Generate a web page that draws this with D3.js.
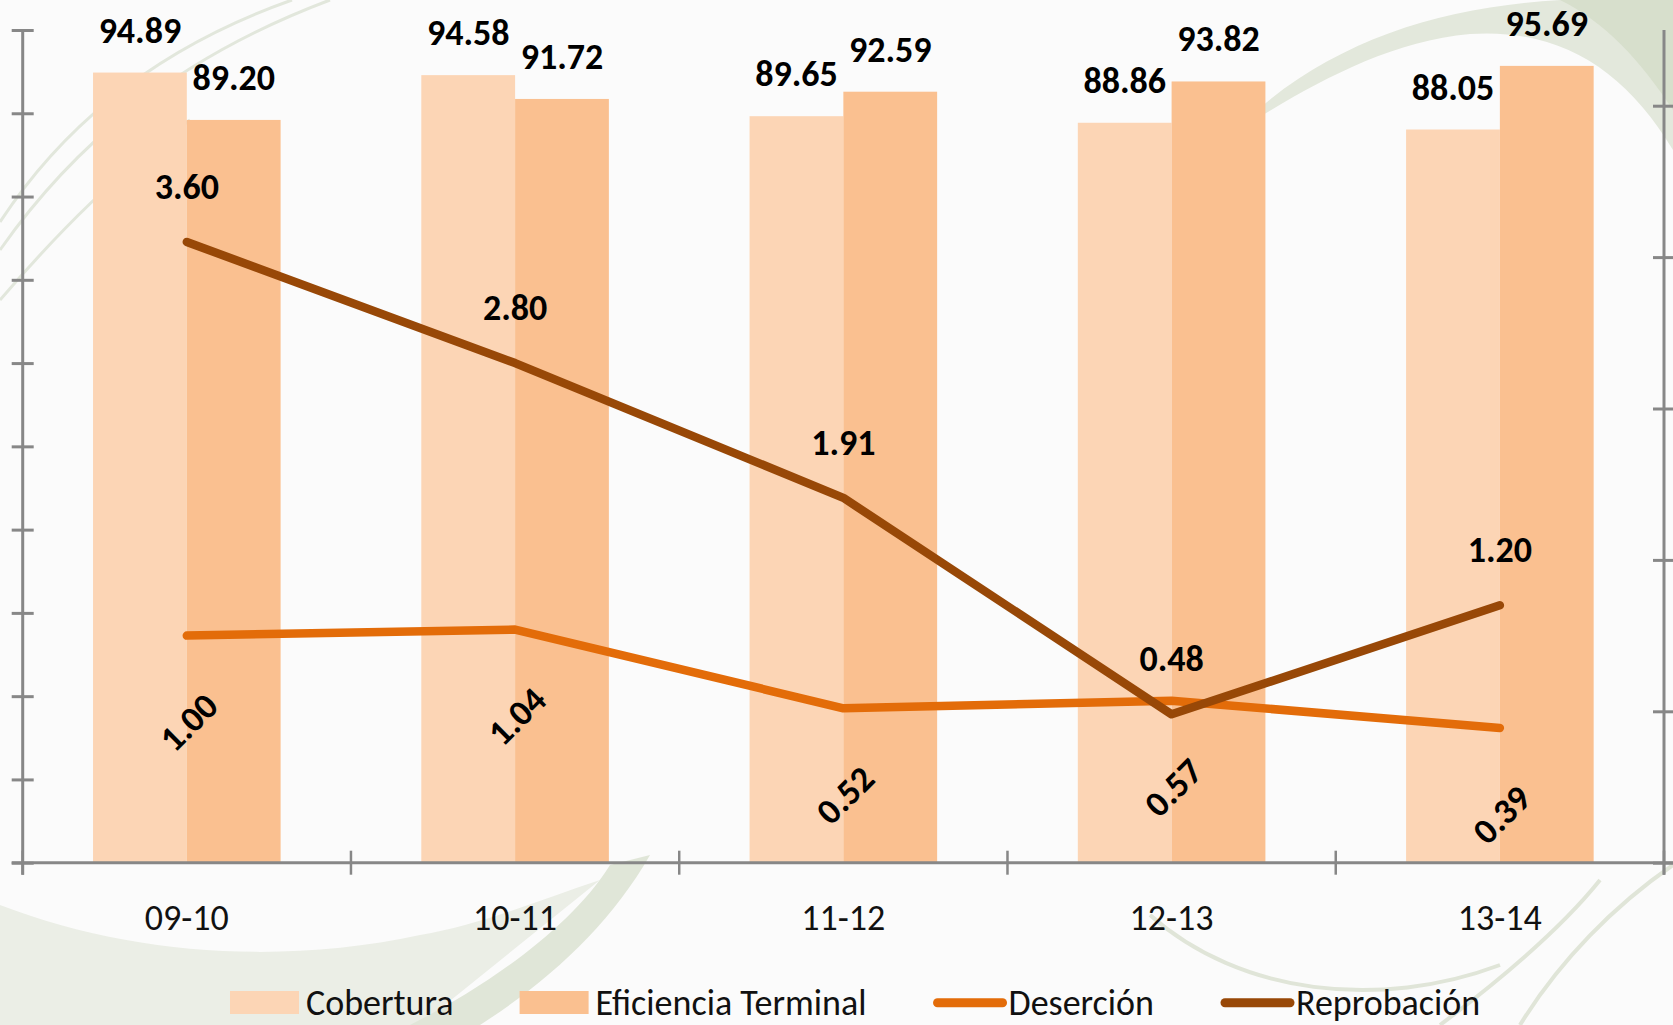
<!DOCTYPE html>
<html>
<head>
<meta charset="utf-8">
<script src="https://cdn.jsdelivr.net/npm/d3@7"></script>
<style>
    html, body { margin: 0; padding: 0; background: #fbfbfb; }
    svg { display: block; font-family: Calibri, Carlito, Lato, "Open Sans", sans-serif; }
</style>
</head>
<body>
<svg id="chart" width="1673" height="1025"></svg>
<script>
// school years and indicators (percent)
var categories = ["09-10", "10-11", "11-12", "12-13", "13-14"];
var cobertura = [94.89, 94.58, 89.65, 88.86, 88.05];
var eficiencia = [89.20, 91.72, 92.59, 93.82, 95.69];
var desercion = [1.00, 1.04, 0.52, 0.57, 0.39];
var reprobacion = [3.60, 2.80, 1.91, 0.48, 1.20];
var barNames = ["Cobertura", "Eficiencia Terminal"];
var lineNames = ["Deserción", "Reprobación"];
var leftDomain = [0, 100];
var leftTicks = [0, 10, 20, 30, 40, 50, 60, 70, 80, 90, 100];
var rightDomain = [-0.5, 5];
var rightTicks = [-0.5, 0.5, 1.5, 2.5, 3.5, 4.5];

(function() {
    "use strict";

    var svg = d3.select("#chart");
    var W = 1673, H = 1025;
    var plot = {left: 22.7, right: 1664, top: 30, bottom: 862.7};
    var axisColor = "#878787";
    var barColors = ["#fcd5b5", "#fac090"];
    var lineColors = ["#e36c09", "#984807"];

    // background with the soft green swooshes
    svg.append("rect").attr("width", W).attr("height", H).attr("fill", "#fbfbfb");
    var deco = svg.append("g");
    deco.append("path")
        .attr("d", "M1230,135 C1320,45 1430,8 1560,0 L1673,0 L1673,150 C1625,70 1560,28 1470,34 C1380,42 1300,92 1230,135 Z")
        .attr("fill", "#e3e8dc");
    deco.append("path")
        .attr("d", "M1560,0 L1673,0 L1673,110 C1640,60 1605,22 1560,0 Z")
        .attr("fill", "#d7dfcc");
    deco.append("path")
        .attr("d", "M0,905 C130,955 280,965 420,935 C480,925 540,900 600,880 L420,1025 L0,1025 Z")
        .attr("fill", "#ebeee6");
    deco.append("path")
        .attr("d", "M610,865 C570,930 480,990 410,1025 L480,1025 C550,980 610,925 650,855 Z")
        .attr("fill", "#e0e6d8");
    ["M0,250 C70,150 170,60 330,0", "M0,222 C60,130 150,50 292,0", "M0,300 C60,230 120,170 190,120"].forEach(function(d) {
        deco.append("path").attr("d", d).attr("fill", "none")
            .attr("stroke", "#e2e7dc").attr("stroke-width", 3);
    });
    ["M1150,915 C1240,995 1380,1010 1500,965", "M1520,1025 C1560,960 1615,905 1673,865", "M1440,1025 C1500,980 1560,930 1600,880"].forEach(function(d) {
        deco.append("path").attr("d", d).attr("fill", "none")
            .attr("stroke", "#e0e5d8").attr("stroke-width", 4);
    });

    // scales
    var x = d3.scaleBand().domain(categories).range([plot.left, plot.right]).padding(0);
    var bw = x.bandwidth();
    var barW = bw / 3.5; // gap width 150%
    var xInner = d3.scaleBand().domain(barNames).range([0.75 * barW, 2.75 * barW]).padding(0);
    var yL = d3.scaleLinear().domain(leftDomain).range([plot.bottom, plot.top]);
    var yR = d3.scaleLinear().domain(rightDomain).range([plot.bottom, plot.top]);

    // bars
    var barData = [cobertura, eficiencia];
    var barG = svg.append("g");
    barNames.forEach(function(name, s) {
        barG.selectAll(".b" + s)
            .data(barData[s])
            .enter().append("rect")
            .attr("x", function(d, i) { return x(categories[i]) + xInner(name); })
            .attr("y", function(d) { return yL(d); })
            .attr("width", xInner.bandwidth())
            .attr("height", function(d) { return yL(0) - yL(d); })
            .attr("fill", barColors[s]);
    });

    // axes
    var axL = svg.append("g").attr("transform", "translate(" + plot.left + ",0)")
        .call(d3.axisLeft(yL).tickValues(leftTicks).tickFormat("").tickSizeOuter(0).tickSizeInner(11));
    var axR = svg.append("g").attr("transform", "translate(" + plot.right + ",0)")
        .call(d3.axisRight(yR).tickValues(rightTicks).tickFormat("").tickSizeOuter(0).tickSizeInner(11));
    [axL, axR].forEach(function(ax) {
        ax.select(".domain").attr("stroke", axisColor).attr("stroke-width", 3);
        ax.selectAll(".tick line").attr("x1", -11).attr("x2", 11)
            .attr("stroke", axisColor).attr("stroke-width", 3);
    });
    axL.select(".domain").attr("d", "M0," + plot.top + "V" + (plot.bottom + 12));
    axR.select(".domain").attr("d", "M0," + plot.top + "V" + (plot.bottom + 12));

    var axB = svg.append("g").attr("transform", "translate(0," + plot.bottom + ")");
    axB.append("line")
        .attr("x1", plot.left - 11).attr("x2", W)
        .attr("stroke", axisColor).attr("stroke-width", 3);
    axB.selectAll(".bt")
        .data(categories.concat(["end"]))
        .enter().append("line")
        .attr("x1", function(d, i) { return plot.left + i * bw; })
        .attr("x2", function(d, i) { return plot.left + i * bw; })
        .attr("y1", -12).attr("y2", 12)
        .attr("stroke", axisColor).attr("stroke-width", 2.5);
    axB.selectAll(".cat")
        .data(categories)
        .enter().append("text")
        .attr("x", function(d) { return x(d) + bw / 2; })
        .attr("y", 67)
        .attr("text-anchor", "middle")
        .attr("font-size", 36)
        .attr("fill", "#111")
        .text(function(d) { return d; });

    // lines
    var lineData = [desercion, reprobacion];
    var line = d3.line()
        .x(function(d, i) { return x(categories[i]) + bw / 2; })
        .y(function(d) { return yR(d); });
    lineNames.forEach(function(name, s) {
        svg.append("path")
            .datum(lineData[s])
            .attr("d", line)
            .attr("fill", "none")
            .attr("stroke", lineColors[s])
            .attr("stroke-width", 8.5)
            .attr("stroke-linecap", "round")
            .attr("stroke-linejoin", "round");
    });

    // data labels
    var lbl = svg.append("g").attr("font-weight", "bold").attr("font-size", 36).attr("fill", "#000");
    barNames.forEach(function(name, s) {
        lbl.selectAll(".bl" + s)
            .data(barData[s])
            .enter().append("text")
            .attr("x", function(d, i) { return x(categories[i]) + xInner(name) + xInner.bandwidth() / 2; })
            .attr("y", function(d) { return yL(d) - 30; })
            .attr("text-anchor", "middle")
            .text(function(d) { return d.toFixed(2); });
    });
    lbl.selectAll(".rl")
        .data(reprobacion)
        .enter().append("text")
        .attr("x", function(d, i) { return x(categories[i]) + bw / 2; })
        .attr("y", function(d) { return yR(d) - 43; })
        .attr("text-anchor", "middle")
        .text(function(d) { return d.toFixed(2); });
    lbl.selectAll(".dl")
        .data(desercion)
        .enter().append("text")
        .attr("transform", function(d, i) {
            return "translate(" + (x(categories[i]) + bw / 2 + 2) + "," + (yR(d) + 87) + ") rotate(-45)";
        })
        .attr("text-anchor", "middle")
        .attr("dominant-baseline", "central")
        .text(function(d) { return d.toFixed(2); });

    // legend
    var leg = svg.append("g").attr("font-size", 36).attr("fill", "#111");
    var lx = 230;
    var items = [
        {name: barNames[0], type: "bar", color: barColors[0]},
        {name: barNames[1], type: "bar", color: barColors[1]},
        {name: lineNames[0], type: "line", color: lineColors[0]},
        {name: lineNames[1], type: "line", color: lineColors[1]}
    ];
    items.forEach(function(it) {
        if (it.type === "bar") {
            leg.append("rect").attr("x", lx).attr("y", 991).attr("width", 69).attr("height", 23)
                .attr("fill", it.color);
        } else {
            leg.append("line").attr("x1", lx + 5).attr("x2", lx + 70).attr("y1", 1002.7).attr("y2", 1002.7)
                .attr("stroke", it.color).attr("stroke-width", 9).attr("stroke-linecap", "round");
        }
        var t = leg.append("text").attr("x", lx + 76).attr("y", 1015).text(it.name);
        lx += 76 + t.node().getComputedTextLength() + 66;
    });
})();
</script>
</body>
</html>
